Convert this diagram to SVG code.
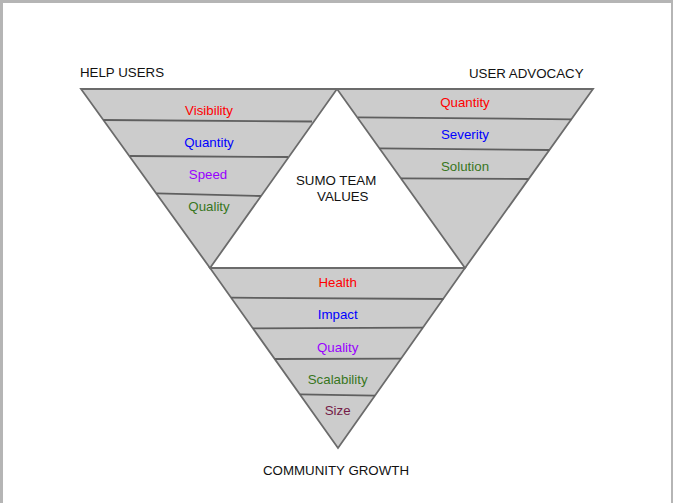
<svg xmlns="http://www.w3.org/2000/svg" width="673" height="503" viewBox="0 0 673 503">
<style>
.tri{fill:#cccccc;stroke:#6b6b6b;stroke-width:1.8;stroke-linejoin:miter}
.div{stroke:#5f5f5f;stroke-width:1.8;fill:none}
text{font-family:"Liberation Sans",Arial,sans-serif;font-size:13.3px}
.c{text-anchor:middle}
.h{fill:#111111}
.red{fill:#ff0000}
.blue{fill:#0000ff}
.purple{fill:#9900ff}
.green{fill:#38761d}
.wine{fill:#741b47}
</style>
<rect x="0" y="0" width="673" height="503" fill="#b5b5b5"/>
<rect x="3" y="3" width="668" height="500" fill="#ffffff"/>
<g id="help-users">
<polygon class="tri" points="81,89 337,89 210,268"/>
<text class="h" x="80" y="77">HELP USERS</text>
<text class="c red" x="209" y="114.5">Visibility</text>
<text class="c blue" x="209" y="147.3">Quantity</text>
<text class="c purple" x="208" y="179.3">Speed</text>
<text class="c green" x="209" y="210.7">Quality</text>
</g>
<g id="user-advocacy">
<polygon class="tri" points="337,89 593,89 465,268"/>
<text class="h" x="583.5" y="77.5" text-anchor="end">USER ADVOCACY</text>
<text class="c red" x="465" y="107.3">Quantity</text>
<text class="c blue" x="465" y="139">Severity</text>
<text class="c green" x="465" y="171">Solution</text>
</g>
<g id="community-growth">
<polygon class="tri" points="210,268 465,268 338,448"/>
<text class="c h" x="336" y="475.3">COMMUNITY GROWTH</text>
<text class="c red" x="337.7" y="287.3">Health</text>
<text class="c blue" x="337.7" y="319.3">Impact</text>
<text class="c purple" x="337.7" y="352">Quality</text>
<text class="c green" x="337.7" y="384">Scalability</text>
<text class="c wine" x="337.7" y="415.3">Size</text>
</g>
<g id="sumo-team-values">
<text class="h" x="296" y="185">SUMO TEAM</text>
<text class="h" x="317" y="201.2">VALUES</text>
</g>
<g id="connectors">
<line class="div" x1="103.3" y1="120" x2="312" y2="121.5"/>
<line class="div" x1="130" y1="156" x2="288" y2="157"/>
<line class="div" x1="156.5" y1="193.3" x2="261" y2="196"/>
<line class="div" x1="358" y1="117.3" x2="571.5" y2="119.3"/>
<line class="div" x1="379.5" y1="148.3" x2="549.4" y2="150"/>
<line class="div" x1="401" y1="178.3" x2="528.6" y2="179"/>
<line class="div" x1="231.1" y1="297.7" x2="443.5" y2="299"/>
<line class="div" x1="253" y1="328.3" x2="423" y2="327.7"/>
<line class="div" x1="274.7" y1="359" x2="401" y2="358.7"/>
<line class="div" x1="300" y1="394.3" x2="375" y2="395.7"/>
</g>
</svg>
